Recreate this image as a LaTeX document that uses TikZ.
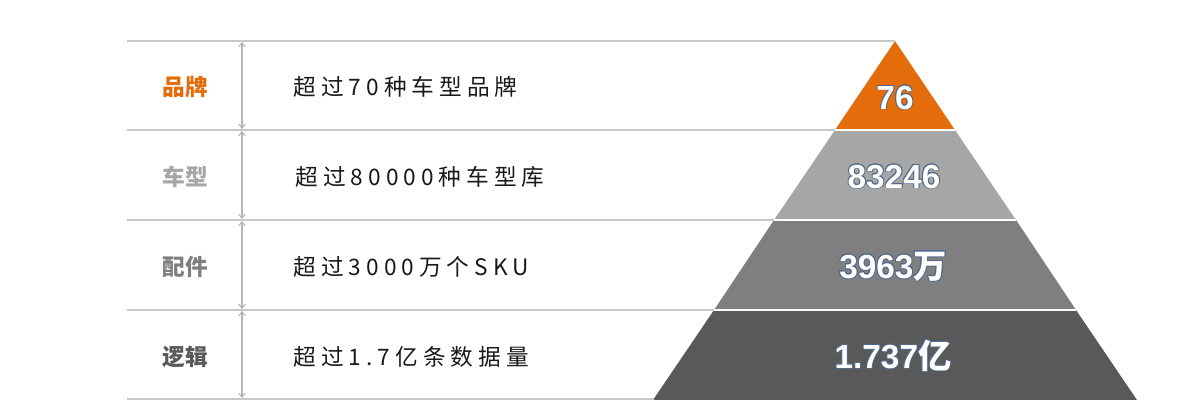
\documentclass[tikz,border=0pt]{standalone}
\usepackage{fontspec}
\usepackage{contour}
\usetikzlibrary{arrows.meta,positioning}
\setmainfont{Liberation Sans}
\newfontfamily\cjk{Noto Sans CJK SC}
\newfontfamily\cjkwide[LetterSpace=22]{Noto Sans CJK SC}
\definecolor{BrandOrange}{HTML}{E46C0A}
\definecolor{TierLight}{HTML}{A6A6A6}
\definecolor{TierMid}{HTML}{7F7F7F}
\definecolor{TierDark}{HTML}{595959}
\definecolor{RuleGray}{HTML}{C8C8C8}
\definecolor{EdgeBlue}{HTML}{52698A}
\contourlength{0.6pt}
\newcommand{\tiernum}[1]{\contour{EdgeBlue}{#1}}
\tikzset{
  rule/.style={RuleGray, line width=1.5pt},
  span/.style={RuleGray!90!black, line width=0.8pt, {Straight Barb[length=3pt,width=5pt]}-{Straight Barb[length=3pt,width=5pt]}},
  tag/.style={font=\cjk\bfseries\fontsize{17}{19}\selectfont},
  desc/.style={anchor=west, font=\cjkwide\fontsize{17}{19}\selectfont, text=black!90},
  num/.style={text=white, font=\bfseries\fontsize{25}{28}\selectfont}
}

\begin{document}
\begin{tikzpicture}[x=0.75pt,y=-0.75pt]
  \useasboundingbox (0,0) rectangle (1200,400);
  % pyramid corners
  \coordinate (A) at (895,41);
  \coordinate (L1) at (835,130); \coordinate (R1) at (955,130);
  \coordinate (L2) at (774,220); \coordinate (R2) at (1016,220);
  \coordinate (L3) at (714,310); \coordinate (R3) at (1076,310);
  \coordinate (L4) at (653,400); \coordinate (R4) at (1137,400);
  \fill[BrandOrange] (A) -- (R1) -- (L1) -- cycle;
  \fill[TierLight] (L1) -- (R1) -- (R2) -- (L2) -- cycle;
  \fill[TierMid] (L2) -- (R2) -- (R3) -- (L3) -- cycle;
  \fill[TierDark] (L3) -- (R3) -- (R4) -- (L4) -- cycle;
  \draw[white, line width=1.6pt] (L1) -- (R1);
  \draw[white, line width=1.6pt] (L2) -- (R2);
  \draw[white, line width=1.6pt] (L3) -- (R3);

  % rules on the left
  \coordinate (r0) at (127,41);
  \coordinate (r1) at (127,130);
  \coordinate (r2) at (127,220);
  \coordinate (r3) at (127,310);
  \coordinate (r4) at (127,399);
  \coordinate (e4) at (654,399);
  \draw[rule] (r0) -- (A);
  \draw[rule] (r1) -- (L1);
  \draw[rule] (r2) -- (L2);
  \draw[rule] (r3) -- (L3);
  \draw[rule] (r4) -- (e4);

  % spans between rules
  \coordinate (s0) at (242,42);  \coordinate (s1) at (242,129);
  \coordinate (t1) at (242,131); \coordinate (s2) at (242,219);
  \coordinate (t2) at (242,221); \coordinate (s3) at (242,309);
  \coordinate (t3) at (242,311); \coordinate (s4) at (242,398);
  \draw[span] (s0) -- (s1);
  \draw[span] (t1) -- (s2);
  \draw[span] (t2) -- (s3);
  \draw[span] (t3) -- (s4);

  % tier names
  \node[tag, text=BrandOrange] (brand) at (185,87) {品牌};
  \node[tag, text=TierLight] (model) at (185,177) {车型};
  \node[tag, text=TierMid] (part) at (185,267) {配件};
  \node[tag, text=TierDark] (logic) at (185,357) {逻辑};

  % descriptions
  \node[desc] (brandtxt) at (289,87) {超过70种车型品牌};
  \node[desc] (modeltxt) at (291,177) {超过80000种车型库};
  \node[desc] (parttxt) at (289,267) {超过3000万个SKU};
  \node[desc] (logictxt) at (289,357) {超过1.7亿条数据量};

  % figures
  \node[num] (brandnum) at (895,98) {\tiernum{76}};
  \node[num] (modelnum) at (894,177) {\tiernum{83246}};
  \node[num] (partnum) at (893,267) {\tiernum{3963{\cjk 万}}};
  \node[num] (logicnum) at (893,356) {\tiernum{1.737{\cjk 亿}}};
\end{tikzpicture}
\end{document}
